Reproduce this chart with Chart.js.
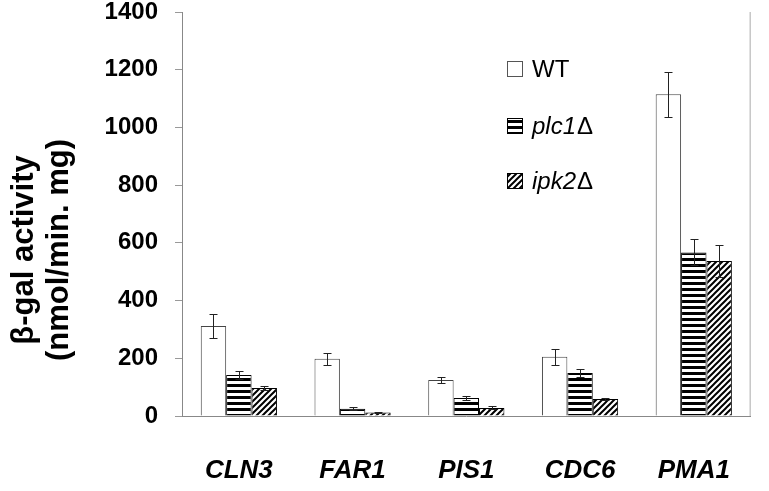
<!DOCTYPE html>
<html>
<head>
<meta charset="utf-8">
<script src="https://cdn.jsdelivr.net/npm/chart.js@4"></script>
<style>
  html, body { margin: 0; padding: 0; background: #fff; }
  #wrap { width: 769px; height: 491px; }
</style>
</head>
<body>
<div id="wrap"><canvas id="myChart" width="769" height="491"></canvas></div>
<script>
const genes = ["CLN3", "FAR1", "PIS1", "CDC6", "PMA1"];
const wtValues = [312, 198, 125, 205, 1115];
const wtErrors = [42, 20, 10, 27, 78];
const plcValues = [142, 25, 62, 149, 567];
const plcErrors = [14, 5, 8, 13, 45];
const ipkValues = [97, 12, 28, 59, 537];
const ipkErrors = [8, 3, 5, 5, 57];
const seriesNames = ["WT", "plc1\u0394", "ipk2\u0394"];
const yTicks = [0, 200, 400, 600, 800, 1000, 1200, 1400];
const yTitle = ["\u03b2-gal activity", "(nmol/min. mg)"];

const FONT = "'Liberation Sans', Arial, sans-serif";

function stripes() {
    const c = document.createElement('canvas');
    c.width = 8; c.height = 6;
    const g = c.getContext('2d');
    g.fillStyle = '#fff'; g.fillRect(0, 0, 8, 6);
    g.fillStyle = '#000'; g.fillRect(0, 0, 8, 3);
    return g.createPattern(c, 'repeat');
}

function hatch() {
    const c = document.createElement('canvas');
    c.width = 6; c.height = 6;
    const g = c.getContext('2d');
    g.fillStyle = '#fff'; g.fillRect(0, 0, 6, 6);
    g.strokeStyle = '#000'; g.lineWidth = 2;
    g.beginPath();
    g.moveTo(0, 6); g.lineTo(6, 0);
    g.moveTo(-1, 1); g.lineTo(1, -1);
    g.moveTo(5, 7); g.lineTo(7, 5);
    g.stroke();
    return g.createPattern(c, 'repeat');
}

const fills = ['#ffffff', stripes(), hatch()];
const borders = ['#444', '#000', '#000'];
const errs = [wtErrors, plcErrors, ipkErrors];

// error bars
const errorBars = {
    id: 'errorBars',
    afterDatasetsDraw(chart) {
        const ctx = chart.ctx, y = chart.scales.y;
        ctx.save();
        ctx.strokeStyle = '#222';
        ctx.lineWidth = 1;
        chart.data.datasets.forEach((ds, i) => {
            const meta = chart.getDatasetMeta(i);
            meta.data.forEach((bar, j) => {
                const v = ds.data[j], e = errs[i][j];
                const hi = Math.round(y.getPixelForValue(v + e)) + 0.5;
                const lo = Math.round(y.getPixelForValue(v - e)) + 0.5;
                const x = Math.round(bar.x) + 0.5;
                ctx.beginPath();
                ctx.moveTo(x, hi); ctx.lineTo(x, lo);
                ctx.moveTo(x - 4, hi); ctx.lineTo(x + 4, hi);
                ctx.moveTo(x - 4, lo); ctx.lineTo(x + 4, lo);
                ctx.stroke();
            });
        });
        ctx.restore();
    }
};

// legend, axis title, right frame line
const extras = {
    id: 'extras',
    afterDraw(chart) {
        const ctx = chart.ctx, a = chart.chartArea;
        ctx.save();
        ctx.strokeStyle = '#aaa';
        ctx.lineWidth = 1;
        ctx.beginPath();
        ctx.moveTo(a.right - 0.5, a.top);
        ctx.lineTo(a.right - 0.5, a.bottom);
        ctx.stroke();

        // legend (gene name italic, the delta upright)
        const rows = [69, 126, 181];
        seriesNames.forEach((name, i) => {
            const cy = rows[i];
            ctx.fillStyle = fills[i];
            ctx.fillRect(507, cy - 8, 16, 16);
            ctx.strokeStyle = i === 0 ? '#555' : '#000';
            ctx.lineWidth = 1;
            ctx.strokeRect(507.5, cy - 7.5, 15, 15);
            ctx.fillStyle = '#000';
            ctx.textBaseline = 'middle';
            ctx.textAlign = 'left';
            if (i === 0) {
                ctx.font = '24px ' + FONT;
                ctx.fillText(name, 532, cy + 1);
            } else {
                const stem = name.slice(0, -1);
                ctx.font = 'italic 24px ' + FONT;
                ctx.fillText(stem, 532, cy + 1);
                const w = ctx.measureText(stem).width;
                ctx.font = '24px ' + FONT;
                ctx.fillText(name.slice(-1), 532 + w + 1, cy + 1);
            }
        });

        // y title
        ctx.translate(0, 250);
        ctx.rotate(-Math.PI / 2);
        ctx.font = 'bold 31px ' + FONT;
        ctx.textAlign = 'center';
        ctx.textBaseline = 'middle';
        ctx.fillStyle = '#000';
        ctx.fillText(yTitle[0], 0, 24);
        ctx.fillText(yTitle[1], 0, 59);
        ctx.restore();
    }
};

const data = {
    labels: genes,
    datasets: [wtValues, plcValues, ipkValues].map((vals, i) => ({
        label: seriesNames[i],
        data: vals,
        backgroundColor: fills[i],
        borderColor: borders[i],
        borderWidth: 1,
        categoryPercentage: 0.67,
        barPercentage: 1.0
    }))
};

const config = {
    type: 'bar',
    data: data,
    options: {
        responsive: false,
        animation: false,
        layout: { padding: { top: 12, right: 1, left: 0, bottom: 0 } },
        plugins: {
            legend: { display: false },
            tooltip: { enabled: false }
        },
        scales: {
            x: {
                grid: { display: false, drawTicks: false },
                border: { display: true, color: '#888' },
                ticks: {
                    color: '#000',
                    padding: 39,
                    font: { family: FONT, size: 26, weight: 'bold', style: 'italic' }
                },
                afterFit(s) { s.height = 75; }
            },
            y: {
                min: 0,
                max: 1400,
                afterBuildTicks(s) { s.ticks = yTicks.map(v => ({ value: v })); },
                grid: { drawOnChartArea: false, drawTicks: true, tickLength: 7, color: '#999' },
                border: { display: true, color: '#888' },
                ticks: {
                    color: '#000',
                    padding: 17,
                    font: { family: FONT, size: 24, weight: 'bold' },
                    callback: v => String(v)
                },
                afterFit(s) {
                    s.width = 182;
                    s.paddingTop = 0;
                    s.paddingBottom = 0;
                }
            }
        }
    },
    plugins: [errorBars, extras]
};

new Chart(document.getElementById('myChart'), config);
</script>
</body>
</html>
